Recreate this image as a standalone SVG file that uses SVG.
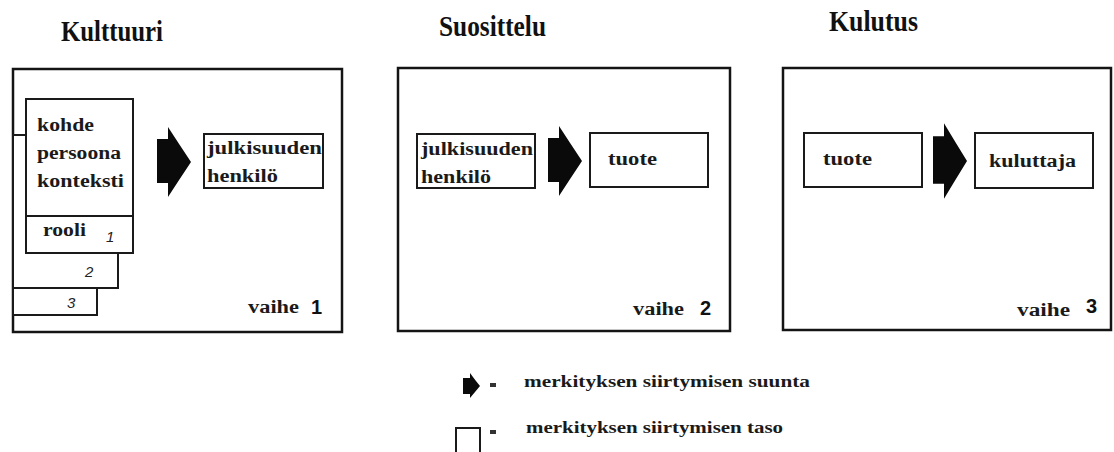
<svg xmlns="http://www.w3.org/2000/svg" width="1114" height="452" viewBox="0 0 1114 452">
<style>
.panel{fill:#fff;stroke:#141414;stroke-width:2.5}
.box{fill:#fff;stroke:#1a1a1a;stroke-width:2}
.title{font-family:"Liberation Serif",serif;font-weight:bold;font-size:30px;fill:#111}
.t{font-family:"Liberation Serif",serif;font-weight:bold;font-size:18px;fill:#1a1a1a}
.lg{font-family:"Liberation Serif",serif;font-weight:bold;font-size:16px;fill:#1a1a1a}
.num{font-family:"Liberation Sans",Arial,sans-serif;font-style:italic;font-size:15px;fill:#222}
.vn{font-family:"Liberation Sans",Arial,sans-serif;font-weight:bold;font-size:20px;fill:#111}
.arrow{fill:#0a0a0a}
</style>
<defs>
<path id="arr" d="M0,-23 L11,-23 L11,-35 Q22,-18 34,0 Q22,18 11,35 L11,21 L0,21 Z"/>
</defs>
<rect width="1114" height="452" fill="#fff"/>

<g id="panel1">
<text class="title" x="61" y="41" textLength="102" lengthAdjust="spacingAndGlyphs">Kulttuuri</text>
<rect class="panel" x="13" y="69" width="329" height="263"/>
<text class="t" x="248" y="313" textLength="51" lengthAdjust="spacingAndGlyphs">vaihe</text>
<text class="vn" x="311" y="314">1</text>
</g>

<g id="card3">
<rect class="box" x="13" y="170" width="84" height="145"/>
<text class="num" x="67" y="308">3</text>
</g>
<g id="card2">
<rect class="box" x="13" y="135" width="105" height="153"/>
<text class="num" x="85" y="277">2</text>
</g>
<g id="card1">
<rect class="box" x="26" y="99" width="107" height="154"/>
<line x1="26" y1="216" x2="133" y2="216" stroke="#1a1a1a" stroke-width="2"/>
<text class="t" x="37" y="131" textLength="57" lengthAdjust="spacingAndGlyphs">kohde</text>
<text class="t" x="37" y="159" textLength="84" lengthAdjust="spacingAndGlyphs">persoona</text>
<text class="t" x="37" y="187" textLength="87" lengthAdjust="spacingAndGlyphs">konteksti</text>
<text class="t" x="43" y="236" textLength="43" lengthAdjust="spacingAndGlyphs">rooli</text>
<text class="num" x="106" y="242">1</text>
</g>

<g id="celeb1">
<rect class="box" x="204" y="134" width="119" height="54"/>
<text class="t" x="207" y="154" textLength="115" lengthAdjust="spacingAndGlyphs">julkisuuden</text>
<text class="t" x="207" y="182" textLength="71" lengthAdjust="spacingAndGlyphs">henkilö</text>
</g>

<g id="panel2">
<text class="title" x="439" y="36" textLength="107" lengthAdjust="spacingAndGlyphs">Suosittelu</text>
<rect class="panel" x="398" y="68" width="332" height="263"/>
<text class="t" x="633" y="315" textLength="51" lengthAdjust="spacingAndGlyphs">vaihe</text>
<text class="vn" x="700" y="315">2</text>
</g>
<g id="celeb2">
<rect class="box" x="417" y="134" width="118" height="54"/>
<text class="t" x="421" y="155" textLength="112" lengthAdjust="spacingAndGlyphs">julkisuuden</text>
<text class="t" x="421" y="183" textLength="70" lengthAdjust="spacingAndGlyphs">henkilö</text>
</g>
<g id="product2">
<rect class="box" x="590" y="133" width="118" height="54"/>
<text class="t" x="608" y="165" textLength="49" lengthAdjust="spacingAndGlyphs">tuote</text>
</g>

<g id="panel3">
<text class="title" x="829" y="31" textLength="89" lengthAdjust="spacingAndGlyphs">Kulutus</text>
<rect class="panel" x="783" y="68" width="328" height="262"/>
<text class="t" x="1017" y="316" textLength="53" lengthAdjust="spacingAndGlyphs">vaihe</text>
<text class="vn" x="1086" y="313">3</text>
</g>
<g id="product3">
<rect class="box" x="804" y="133" width="118" height="54"/>
<text class="t" x="823" y="165" textLength="49" lengthAdjust="spacingAndGlyphs">tuote</text>
</g>
<g id="consumer3">
<rect class="box" x="975" y="133" width="118" height="55"/>
<text class="t" x="989" y="167" textLength="87" lengthAdjust="spacingAndGlyphs">kuluttaja</text>
</g>

<g id="connectors">
<use href="#arr" class="arrow" transform="translate(157,162)"/>
<use href="#arr" class="arrow" transform="translate(548,161)"/>
<use href="#arr" class="arrow" transform="translate(933,161) scale(1,1.08)"/>
</g>

<g id="legend">
<path class="arrow" d="M463,378 L470,378 L470,373 Q475,380 480,386 Q475,392 470,398 L470,394 L463,394 Z"/>
<rect x="490" y="383" width="6" height="4" fill="#333"/>
<text class="lg" x="524" y="387" textLength="286" lengthAdjust="spacingAndGlyphs">merkityksen siirtymisen suunta</text>
<rect x="456" y="428" width="24" height="26" fill="#fff" stroke="#1a1a1a" stroke-width="2"/>
<rect x="490" y="430" width="6" height="4" fill="#333"/>
<text class="lg" x="526" y="433" textLength="257" lengthAdjust="spacingAndGlyphs">merkityksen siirtymisen taso</text>
</g>
</svg>
